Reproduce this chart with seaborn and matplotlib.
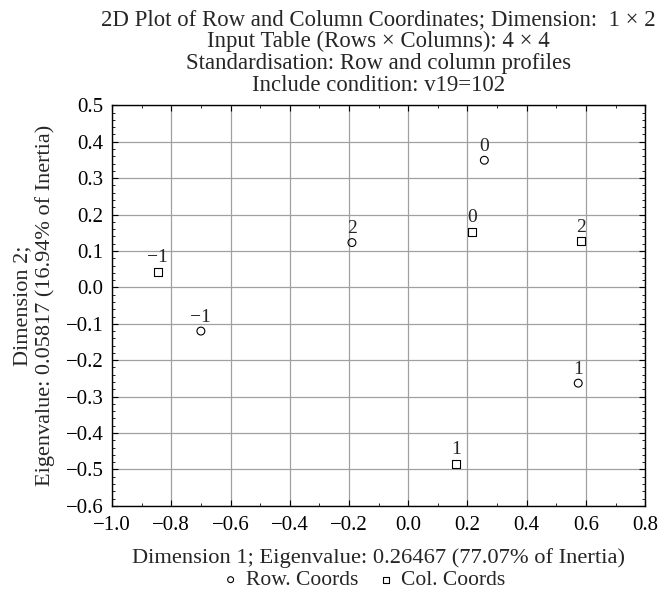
import pandas as pd
import matplotlib
matplotlib.use("Agg")
import matplotlib.pyplot as plt
from matplotlib.ticker import MultipleLocator, FuncFormatter
import seaborn as sns

# coordinates
row_labels = ["\u22121", "0", "1", "2"]
row_dim1 = [-0.700, 0.257, 0.574, -0.190]
row_dim2 = [-0.120, 0.349, -0.263, 0.123]

col_labels = ["\u22121", "0", "1", "2"]
col_dim1 = [-0.846, 0.216, 0.162, 0.584]
col_dim2 = [0.043, 0.152, -0.485, 0.127]

x_ticks = [-1.0, -0.8, -0.6, -0.4, -0.2, 0.0, 0.2, 0.4, 0.6, 0.8]
y_ticks = [0.5, 0.4, 0.3, 0.2, 0.1, 0.0, -0.1, -0.2, -0.3, -0.4, -0.5, -0.6]

rows = pd.DataFrame({"dim1": row_dim1, "dim2": row_dim2, "label": row_labels})
cols = pd.DataFrame({"dim1": col_dim1, "dim2": col_dim2, "label": col_labels})


def tick_fmt(v, pos):
    if abs(v) < 1e-9:
        v = 0.0
    return f"{v:.1f}".replace("-", "\u2212")


sns.set_theme(style="ticks")
plt.rcParams["font.family"] = ["Liberation Serif", "DejaVu Serif"]

fig = plt.figure(figsize=(6.59, 5.98), dpi=100)
ax = fig.add_axes([0.170, 0.154, 0.809, 0.670])

sns.scatterplot(data=rows, x="dim1", y="dim2", marker="o", s=32,
                facecolor="none", edgecolor="black", linewidth=0.8,
                label="Row. Coords", legend=False, ax=ax, zorder=3)
sns.scatterplot(data=cols, x="dim1", y="dim2", marker="s", s=32,
                facecolor="none", edgecolor="black", linewidth=0.8,
                label="Col. Coords", legend=False, ax=ax, zorder=3)

for df in (rows, cols):
    for _, r in df.iterrows():
        ax.annotate(r["label"], (r["dim1"], r["dim2"]), xytext=(0, 4),
                    textcoords="offset points", ha="center", va="bottom",
                    fontsize=14)

ax.set_xlim(-1.0, 0.8)
ax.set_ylim(-0.6, 0.5)
ax.set_xticks(x_ticks)
ax.set_yticks(y_ticks)
ax.xaxis.set_major_formatter(FuncFormatter(tick_fmt))
ax.yaxis.set_major_formatter(FuncFormatter(tick_fmt))
ax.xaxis.set_minor_locator(MultipleLocator(0.1))
ax.yaxis.set_minor_locator(MultipleLocator(0.02))
ax.tick_params(which="both", direction="in", top=True, right=True,
               labelsize=15, colors="black")
ax.tick_params(which="major", length=4, width=0.8, pad=6)
ax.tick_params(axis="x", which="major", pad=7)
ax.tick_params(which="minor", length=2, width=0.6)
ax.grid(True, which="major", color="#a0a0a0", linewidth=0.9)
for sp in ax.spines.values():
    sp.set_color("black")
    sp.set_linewidth(1.0)

ax.set_title("2D Plot of Row and Column Coordinates; Dimension:  1 \u00d7 2\n"
             "Input Table (Rows \u00d7 Columns): 4 \u00d7 4\n"
             "Standardisation: Row and column profiles\n"
             "Include condition: v19=102",
             fontsize=16.4, linespacing=1.06, pad=10)
ax.set_xlabel("Dimension 1; Eigenvalue: 0.26467 (77.07% of Inertia)",
              fontsize=16.2, labelpad=10)
ax.set_ylabel("Dimension 2;\nEigenvalue: 0.05817 (16.94% of Inertia)",
              fontsize=16, labelpad=8, linespacing=1.15)

ax.legend(loc="upper center", bbox_to_anchor=(0.47, -0.123), ncol=2,
          frameon=False, fontsize=15.5, handletextpad=0.2, columnspacing=0.8,
          markerscale=0.75, handlelength=1.0, borderpad=0.2)

fig.savefig("out.png", dpi=100)
